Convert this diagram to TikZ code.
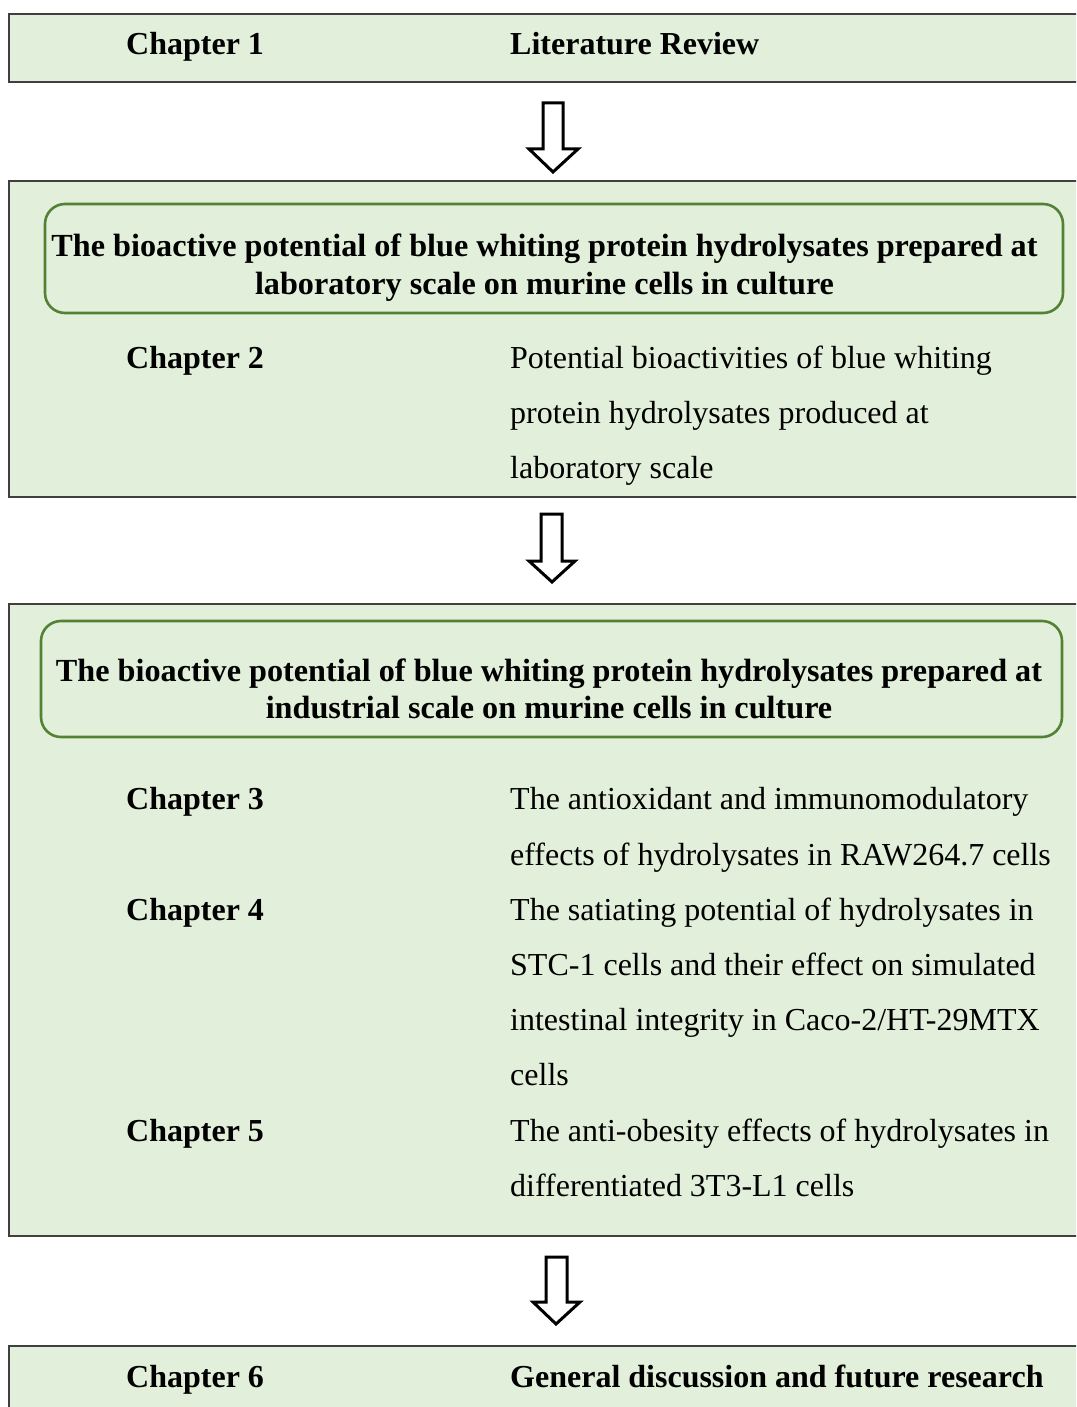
\documentclass[tikz,border=0pt]{standalone}
\usepackage{fontspec}
\setmainfont{Liberation Serif}
\definecolor{boxfill}{HTML}{E2EFDA}
\definecolor{boxline}{HTML}{404040}
\definecolor{innerline}{HTML}{548235}
\begin{document}
\begin{tikzpicture}[x=1pt,y=-1pt,
  outerbox/.style={draw=boxline,line width=1.8pt,fill=boxfill},
  innerbox/.style={draw=innerline,line width=2.6pt,rounded corners=20pt},
  txt/.style={inner sep=0pt,font=\fontsize{32}{38}\selectfont},
  lab/.style={txt,anchor=base west,font=\fontsize{32}{38}\selectfont\bfseries},
  desc/.style={txt,anchor=base west},
  ttl/.style={txt,anchor=base,font=\fontsize{32.2}{38}\selectfont\bfseries},
  blockarrow/.style={draw=black,fill=white,line width=3pt,line join=miter}]
\useasboundingbox (0,0) rectangle (1076,1407);
\clip (0,0) rectangle (1076,1407);
% outer boxes
\draw[outerbox] (9,14) rectangle (1100,82);
\draw[outerbox] (9,181) rectangle (1100,497);
\draw[outerbox] (9,604) rectangle (1100,1236);
\draw[outerbox] (9,1346) rectangle (1100,1430);
% inner rounded boxes
\draw[innerbox] (45,204) rectangle (1063,313);
\draw[innerbox] (41,621) rectangle (1062,737);
% arrows
\draw[blockarrow] (543,103) -- (563,103) -- (563,149) -- (578,149) -- (553,172) -- (529,149) -- (543,149) -- cycle;
\draw[blockarrow] (541,514) -- (562,514) -- (562,561) -- (575,561) -- (552,582) -- (529,561) -- (541,561) -- cycle;
\draw[blockarrow] (546,1257) -- (567,1257) -- (567,1302) -- (580,1302) -- (556,1324) -- (533,1302) -- (546,1302) -- cycle;
% box 1
\node[lab] (c1) at (126,55) {Chapter 1};
\node[lab] (t1) at (510,55) {Literature Review};
% box 2
\node[ttl] (h1a) at (544.5,256) {The bioactive potential of blue whiting protein hydrolysates prepared at};
\node[ttl] (h1b) at (544.5,294) {laboratory scale on murine cells in culture};
\node[lab] (c2) at (126,368) {Chapter 2};
\node[desc] (d2a) at (510,368) {Potential bioactivities of blue whiting};
\node[desc] (d2b) at (510,423) {protein hydrolysates produced at};
\node[desc] (d2c) at (510,478) {laboratory scale};
% box 3
\node[ttl] (h2a) at (549,681) {The bioactive potential of blue whiting protein hydrolysates prepared at};
\node[ttl] (h2b) at (549,718) {industrial scale on murine cells in culture};
\node[lab] (c3) at (126,809) {Chapter 3};
\node[desc] (d3a) at (510,809) {The antioxidant and immunomodulatory};
\node[desc] (d3b) at (510,865) {effects of hydrolysates in RAW264.7 cells};
\node[lab] (c4) at (126,920) {Chapter 4};
\node[desc] (d4a) at (510,920) {The satiating potential of hydrolysates in};
\node[desc] (d4b) at (510,975) {STC-1 cells and their effect on simulated};
\node[desc] (d4c) at (510,1030) {intestinal integrity in Caco-2/HT-29MTX};
\node[desc] (d4d) at (510,1085) {cells};
\node[lab] (c5) at (126,1141) {Chapter 5};
\node[desc] (d5a) at (510,1141) {The anti-obesity effects of hydrolysates in};
\node[desc] (d5b) at (510,1196) {differentiated 3T3-L1 cells};
% box 4
\node[lab] (c6) at (126,1387) {Chapter 6};
\node[lab] (t6) at (510,1387) {General discussion and future research};
\end{tikzpicture}
\end{document}
